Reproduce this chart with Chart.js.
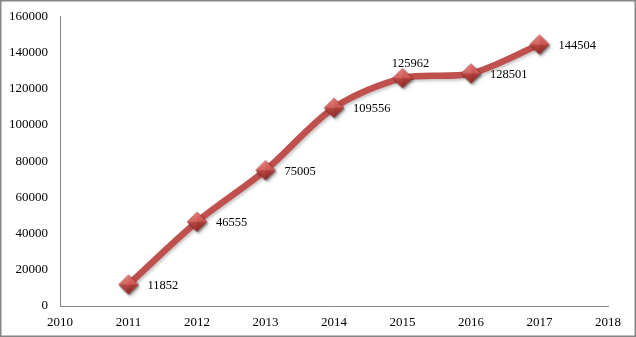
<!DOCTYPE html>
<html>
<head>
<meta charset="utf-8">
<script src="https://cdn.jsdelivr.net/npm/chart.js@4/dist/chart.umd.min.js"></script>
<style>
  html, body { margin: 0; padding: 0; background: #fff; }
  #wrap { width: 636px; height: 337px; position: relative; }
</style>
</head>
<body>
<div id="wrap"><canvas id="c" width="636" height="337"></canvas></div>
<script>
const years = [2011, 2012, 2013, 2014, 2015, 2016, 2017];
const values = [11852, 46555, 75005, 109556, 125962, 128501, 144504];
const xTicks = [2010, 2011, 2012, 2013, 2014, 2015, 2016, 2017, 2018];
const yTicks = [0, 20000, 40000, 60000, 80000, 100000, 120000, 140000, 160000];

const FONT = '"Liberation Serif", "Times New Roman", serif';

// diamond marker image
function makeMarker() {
  const c = document.createElement('canvas');
  c.width = 26; c.height = 26;
  const g = c.getContext('2d');
  const cx = 13, cy = 13, r = 9.8;
  g.save();
  g.shadowColor = 'rgba(0,0,0,0.35)';
  g.shadowBlur = 2;
  g.shadowOffsetX = 1.2;
  g.shadowOffsetY = 1.5;
  g.beginPath();
  g.moveTo(cx, cy - r); g.lineTo(cx + r, cy); g.lineTo(cx, cy + r); g.lineTo(cx - r, cy); g.closePath();
  const grad = g.createLinearGradient(0, cy - r, 0, cy + r);
  grad.addColorStop(0, '#e2706c');
  grad.addColorStop(0.5, '#c44f4b');
  grad.addColorStop(1, '#992f2c');
  g.fillStyle = grad;
  g.fill();
  g.restore();
  const facet = (ax, ay, bx, by, col) => {
    g.beginPath(); g.moveTo(cx, cy); g.lineTo(ax, ay); g.lineTo(bx, by); g.closePath();
    g.fillStyle = col; g.fill();
  };
  facet(cx - r, cy, cx, cy - r, 'rgba(255,180,175,0.22)');
  facet(cx, cy - r, cx + r, cy, 'rgba(255,150,145,0.10)');
  facet(cx + r, cy, cx, cy + r, 'rgba(80,0,0,0.18)');
  facet(cx, cy + r, cx - r, cy, 'rgba(80,0,0,0.08)');
  g.beginPath();
  g.moveTo(cx, cy - r); g.lineTo(cx + r, cy); g.lineTo(cx, cy + r); g.lineTo(cx - r, cy); g.closePath();
  g.strokeStyle = 'rgba(140,40,38,0.6)';
  g.lineWidth = 0.8;
  g.stroke();
  return c;
}
const marker = makeMarker();

const borderPlugin = {
  id: 'outerBorder',
  afterDraw(chart) {
    const ctx = chart.ctx;
    ctx.save();
    ctx.strokeStyle = '#868686';
    ctx.lineWidth = 1.5;
    ctx.strokeRect(0.75, 0.75, 634.5, 335.5);
    ctx.restore();
  }
};

const shadowPlugin = {
  id: 'lineShadow',
  beforeDatasetDraw(chart) {
    const ctx = chart.ctx;
    ctx.save();
    ctx.shadowColor = 'rgba(0,0,0,0.22)';
    ctx.shadowBlur = 3;
    ctx.shadowOffsetX = 1.5;
    ctx.shadowOffsetY = 2;
  },
  afterDatasetDraw(chart) {
    chart.ctx.restore();
  }
};

const labelPlugin = {
  id: 'valueLabels',
  afterDatasetsDraw(chart) {
    const ctx = chart.ctx;
    const meta = chart.getDatasetMeta(0);
    const data = chart.data.datasets[0].data;
    ctx.save();
    ctx.font = '12.5px ' + FONT;
    ctx.fillStyle = '#000';
    meta.data.forEach((pt, i) => {
      const v = String(data[i].y);
      if (i === 4) {
        ctx.textAlign = 'center';
        ctx.textBaseline = 'middle';
        ctx.fillText(v, pt.x + 8, pt.y - 14);
      } else {
        ctx.textAlign = 'left';
        ctx.textBaseline = 'middle';
        ctx.fillText(v, pt.x + 19, pt.y + 1);
      }
    });
    ctx.restore();
  }
};

new Chart(document.getElementById('c'), {
  type: 'line',
  data: {
    datasets: [{
      data: years.map((y, i) => ({ x: y, y: values[i] })),
      borderColor: '#C0504D',
      borderWidth: 6.5,
      tension: 0.3,
      pointStyle: marker,
      pointRadius: 10,
      pointHoverRadius: 10,
      fill: false
    }]
  },
  options: {
    responsive: false,
    animation: false,
    events: [],
    plugins: { legend: { display: false }, tooltip: { enabled: false } },
    layout: { padding: { left: 0, right: 28, top: 12, bottom: 0 } },
    scales: {
      x: {
        type: 'linear',
        min: 2010, max: 2018,
        afterFit(s) { s.height = 31; s.paddingLeft = 0; s.paddingRight = 0; },
        afterBuildTicks(s) { s.ticks = xTicks.map(v => ({ value: v })); },
        grid: { display: false, drawTicks: false },
        border: { display: true, color: '#868686', width: 1 },
        ticks: {
          padding: 9,
          color: '#000',
          font: { family: FONT, size: 13 },
          callback: v => String(v),
          maxRotation: 0,
          autoSkip: false
        }
      },
      y: {
        min: 0, max: 160000,
        afterFit(s) { s.width = 60; s.paddingTop = 0; s.paddingBottom = 0; },
        afterBuildTicks(s) { s.ticks = yTicks.map(v => ({ value: v })); },
        grid: { display: false, drawTicks: false },
        border: { display: true, color: '#868686', width: 1 },
        ticks: {
          padding: 12,
          color: '#000',
          font: { family: FONT, size: 13 },
          callback: v => String(v),
          autoSkip: false
        }
      }
    }
  },
  plugins: [shadowPlugin, labelPlugin, borderPlugin]
});
</script>
</body>
</html>
